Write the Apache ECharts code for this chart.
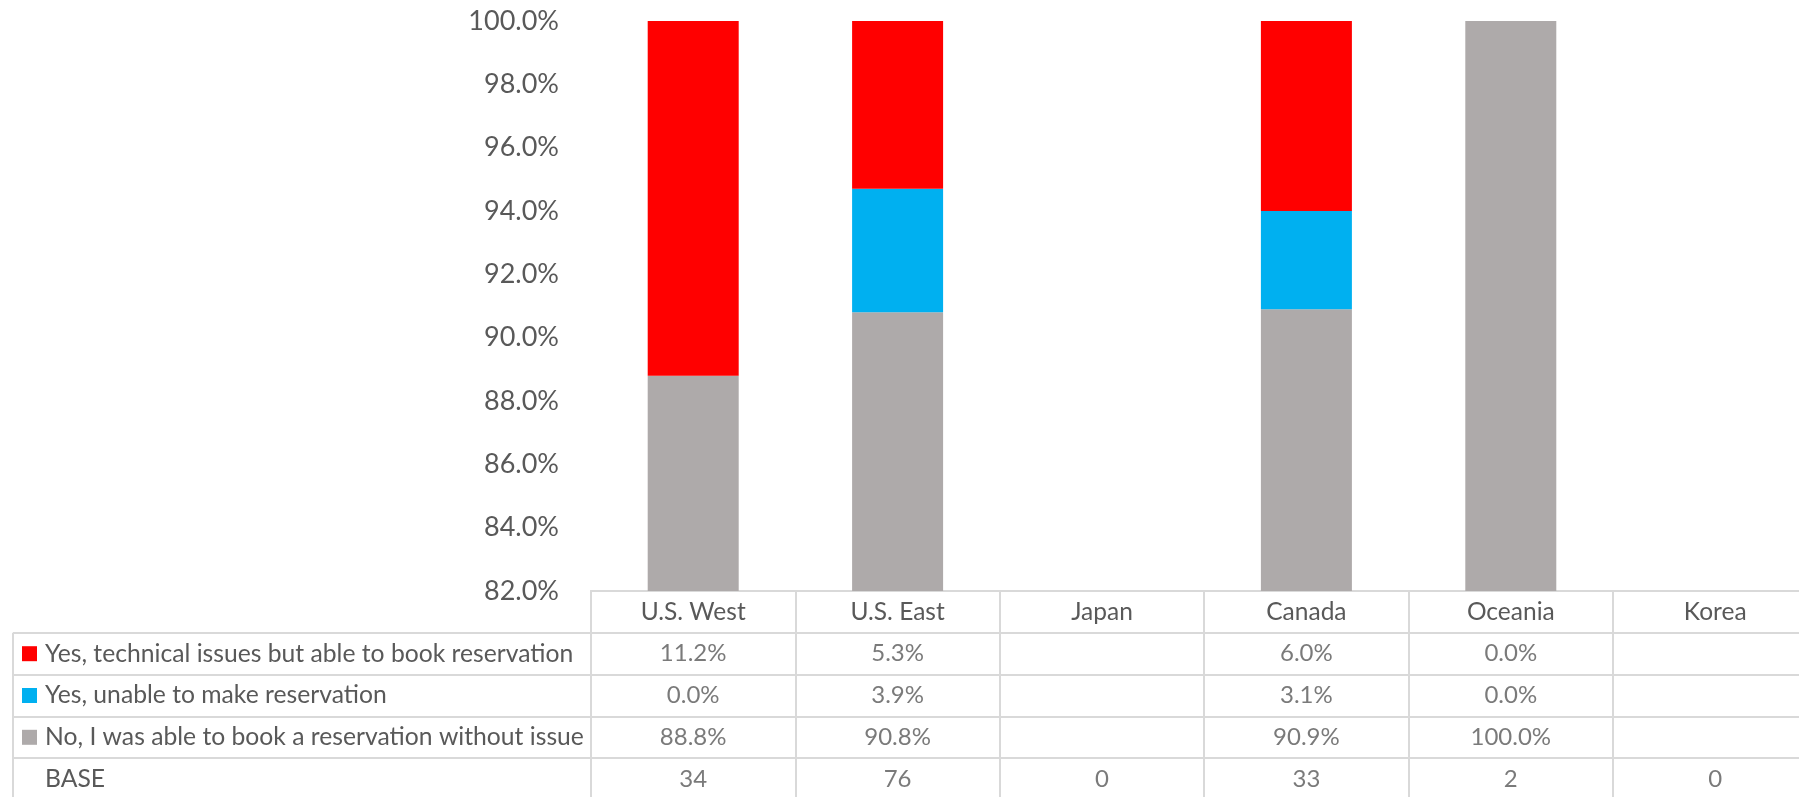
<!DOCTYPE html>
<html>
<head>
<meta charset="utf-8">
<script src="https://cdn.jsdelivr.net/npm/echarts@6/dist/echarts.min.js"></script>
<style>
  html, body { margin: 0; padding: 0; background: #fff; }
  #main { width: 1799px; height: 797px; }
</style>
</head>
<body>
<div id="main"></div>
<script>
const categories = ['U.S. West', 'U.S. East', 'Japan', 'Canada', 'Oceania', 'Korea'];
const techIssues = [11.2, 5.3, null, 6.0, 0.0, null];
const unableToBook = [0.0, 3.9, null, 3.1, 0.0, null];
const noIssue = [88.8, 90.8, null, 90.9, 100.0, null];
const baseCounts = [34, 76, 0, 33, 2, 0];
const seriesNames = [
  'Yes, technical issues but able to book reservation',
  'Yes, unable to make reservation',
  'No, I was able to book a reservation without issue'
];
const yMin = 82;
const yMax = 100;
const yStep = 2;

// colours / layout
const RED = '#FF0000';
const BLUE = '#00B0F0';
const GRAY = '#AEAAAA';
const TEXT = '#595959';
const LINE = '#D9D9D9';
const FONT = 'Lato, "Open Sans", sans-serif';

const plotLeft = 591;
const plotTop = 21;
const colW = 204.4;
const plotW = colW * categories.length;   // runs past the right edge, as in the source
const plotH = 570;
const rowH = 41.8;
const tableLeft = 13;

// table rows: header row, three series rows, BASE
const rowLabels = ['', seriesNames[0], seriesNames[1], seriesNames[2], 'BASE'];
const rowValues = [techIssues, unableToBook, noIssue];

const cellData = [];
rowValues.forEach((arr, r) => {
  arr.forEach((v, c) => {
    if (v !== null) cellData.push({ value: [c, r + 1], name: v.toFixed(1) + '%' });
  });
});
baseCounts.forEach((v, c) => {
  cellData.push({ value: [c, 4], name: String(v) });
});

const chart = echarts.init(document.getElementById('main'));

const lineStyle = { color: LINE, width: 2 };

const option = {
  animation: false,
  textStyle: { fontFamily: FONT },
  grid: [
    { left: plotLeft, top: plotTop, width: plotW, height: plotH, outerBoundsMode: 'none' },
    { left: plotLeft, top: plotTop + plotH, width: plotW, height: rowH * rowLabels.length, outerBoundsMode: 'none' }
  ],
  xAxis: [
    {
      type: 'category',
      gridIndex: 0,
      data: categories,
      axisLine: { show: true, lineStyle: lineStyle },
      axisTick: { show: false },
      axisLabel: { interval: 0, color: TEXT, fontSize: 24.5, lineHeight: 24, margin: 9 }
    },
    {
      type: 'category',
      gridIndex: 1,
      data: categories,
      axisLine: { show: false },
      axisTick: { show: false },
      axisLabel: { show: false },
      splitLine: { show: true, interval: 0, lineStyle: lineStyle }
    }
  ],
  yAxis: [
    {
      type: 'value',
      gridIndex: 0,
      min: yMin,
      max: yMax,
      interval: yStep,
      axisLine: { show: false },
      axisTick: { show: false },
      splitLine: { show: false },
      axisLabel: {
        color: TEXT,
        fontSize: 27,
        margin: 32,
        formatter: v => v.toFixed(1) + '%'
      }
    },
    {
      type: 'category',
      gridIndex: 1,
      inverse: true,
      data: rowLabels,
      axisLine: { show: true, lineStyle: lineStyle },
      axisTick: {
        show: true,
        length: plotLeft - tableLeft,
        interval: (i) => i > 0,
        lineStyle: lineStyle
      },
      splitLine: { show: true, interval: 0, lineStyle: lineStyle },
      axisLabel: {
        interval: 0,
        align: 'left',
        margin: plotLeft - 22,
        formatter: (value, idx) => {
          if (idx === 0) return '';
          if (idx === 4) return '{sp|}{t|' + value + '}';
          return '{sq' + idx + '|}{t|' + value + '}';
        },
        rich: {
          sq1: { width: 15, height: 15, backgroundColor: RED },
          sq2: { width: 15, height: 15, backgroundColor: BLUE },
          sq3: { width: 15, height: 15, backgroundColor: GRAY },
          sp: { width: 15, height: 15 },
          t: { color: TEXT, fontSize: 24.7, padding: [0, 0, 0, 8], fontFamily: FONT }
        }
      }
    }
  ],
  series: [
    {
      name: seriesNames[2],
      type: 'bar',
      stack: 'total',
      barWidth: 91,
      data: noIssue,
      itemStyle: { color: GRAY }
    },
    {
      name: seriesNames[1],
      type: 'bar',
      stack: 'total',
      barWidth: 91,
      data: unableToBook,
      itemStyle: { color: BLUE }
    },
    {
      name: seriesNames[0],
      type: 'bar',
      stack: 'total',
      barWidth: 91,
      data: techIssues,
      itemStyle: { color: RED }
    },
    {
      name: 'table',
      type: 'scatter',
      xAxisIndex: 1,
      yAxisIndex: 1,
      symbolSize: 1,
      itemStyle: { color: 'rgba(0,0,0,0)' },
      silent: true,
      data: cellData,
      label: {
        show: true,
        position: 'inside',
        color: TEXT,
        fontSize: 24,
        formatter: p => p.name
      }
    }
  ],
  graphic: [
    {
      type: 'line',
      silent: true,
      shape: {
        x1: tableLeft, y1: plotTop + plotH + rowH,
        x2: tableLeft, y2: plotTop + plotH + rowH * rowLabels.length
      },
      style: { stroke: LINE, lineWidth: 2 }
    }
  ]
};

chart.setOption(option);
</script>
</body>
</html>
